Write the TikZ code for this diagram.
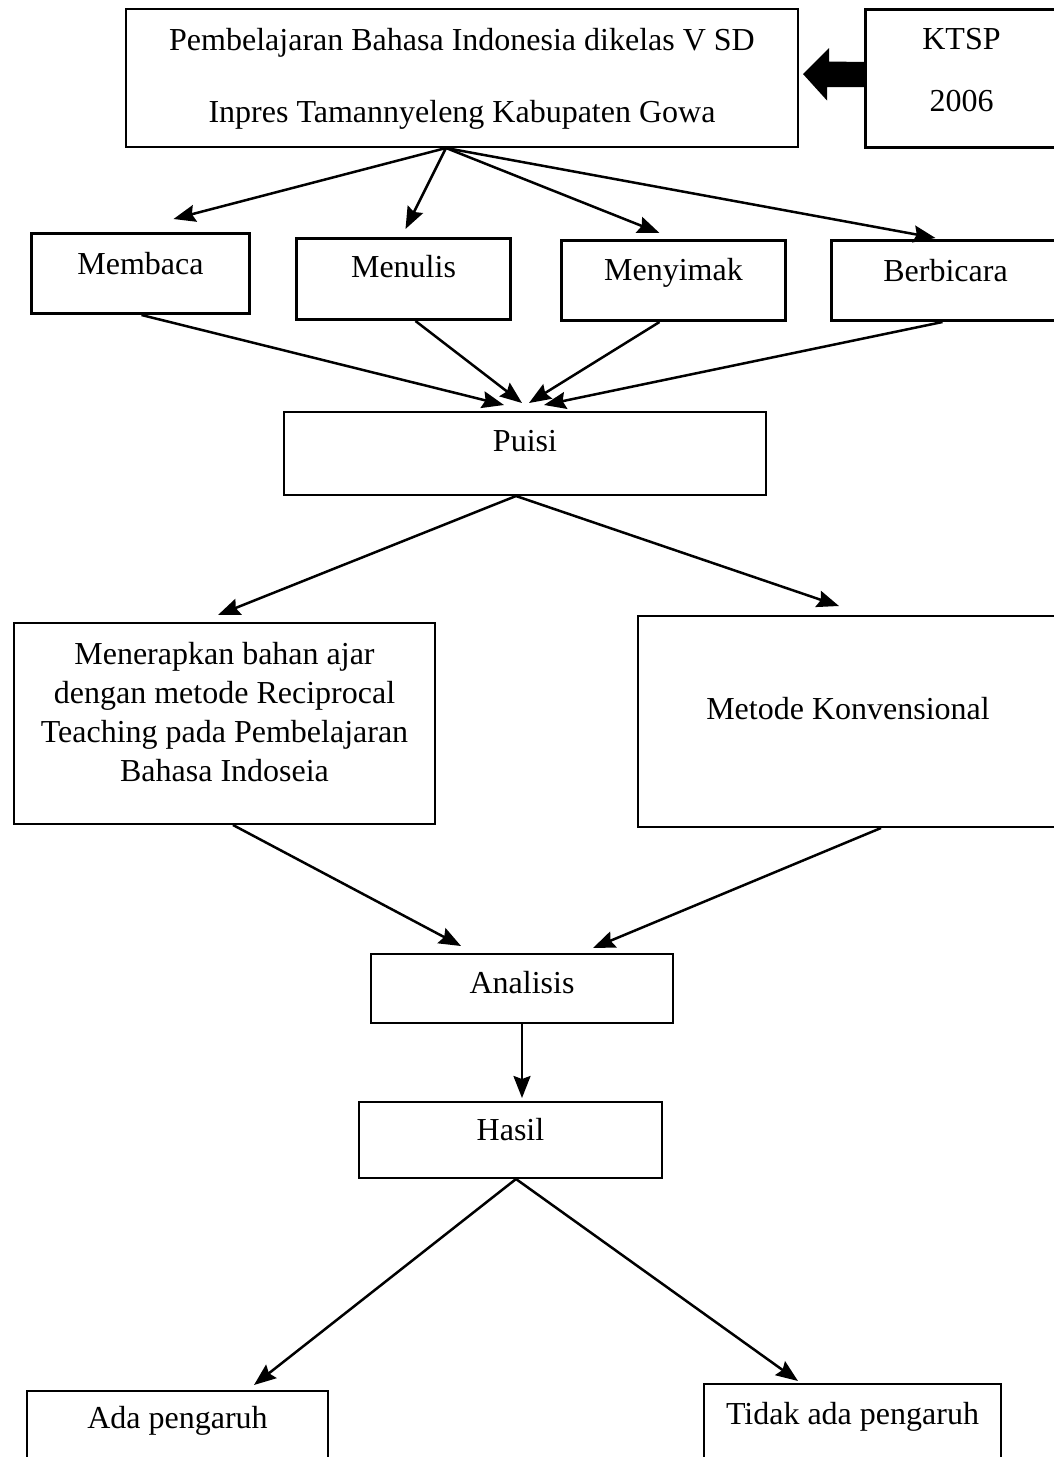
\documentclass[tikz,border=0pt]{standalone}
\usepackage{fontspec}
\setmainfont{Liberation Serif}
\usetikzlibrary{arrows.meta}
\newcommand{\bxt}[4]{\parbox[c][#2][t]{#1}{\centering\rule{0pt}{#3}#4}}
\begin{document}
\begin{tikzpicture}[x=1pt,y=-1pt,
  box/.style={draw, line width=2pt, inner sep=0pt, anchor=north west, font=\fontsize{32}{39}\selectfont},
  tbox/.style={box, line width=3pt},
  arr/.style={line width=2.5pt, -{Stealth[length=22pt,width=17pt,inset=3pt]}},
  ln/.style={line width=2.5pt}]
\useasboundingbox (0,0) rectangle (1054,1457);

\node[box] (top) at (125,8) {\bxt{672pt}{138pt}{41pt}{Pembelajaran Bahasa Indonesia dikelas V SD\\[33pt]Inpres Tamannyeleng Kabupaten Gowa}};
\node[tbox] (ktsp) at (864,8) {\bxt{192pt}{138pt}{40pt}{KTSP\\[23pt]2006}};

\node[tbox] (mem) at (30,232) {\bxt{218pt}{80pt}{41pt}{Membaca}};
\node[tbox] (menu) at (295,237) {\bxt{214pt}{81pt}{39pt}{Menulis}};
\node[tbox] (meny) at (560,239) {\bxt{224pt}{80pt}{40pt}{Menyimak}};
\node[tbox] (berb) at (830,239) {\bxt{228pt}{80pt}{41pt}{Berbicara}};

\node[box] (puisi) at (283,411) {\bxt{482pt}{83pt}{39pt}{Puisi}};

\node[box] (lm) at (13,622) {\bxt{421pt}{201pt}{41pt}{Menerapkan bahan ajar\\dengan metode Reciprocal\\Teaching pada Pembelajaran\\Bahasa Indoseia}};
\node[box] (rm) at (637,615) {\bxt{420pt}{211pt}{103pt}{Metode Konvensional}};

\node[box] (anal) at (370,953) {\bxt{302pt}{69pt}{39pt}{Analisis}};
\node[box] (hasil) at (358,1101) {\bxt{303pt}{76pt}{38pt}{Hasil}};

\node[box] (ada) at (26,1390) {\bxt{301pt}{100pt}{37pt}{Ada pengaruh}};
\node[box] (tidak) at (703,1383) {\bxt{297pt}{100pt}{40pt}{Tidak ada pengaruh}};

% block arrow KTSP -> top
\fill ([xshift=4pt,yshift=4pt]top.east) -- ++(26,-26) -- ++(0,13.5)
  -- ([yshift=16.5pt]ktsp.west) -- ([yshift=-8.5pt]ktsp.west) -- ++(-37,0) -- ++(0,13.5) -- cycle;

% top -> skills
\draw[arr] ([xshift=-16pt]top.south) -- ([xshift=33pt,yshift=13pt]mem.north);
\draw[arr] ([xshift=-16pt]top.south) -- ([xshift=2pt,yshift=8pt]menu.north);
\draw[arr] ([xshift=-16pt]top.south) -- ([xshift=-14pt,yshift=6pt]meny.north);
\draw[arr] ([xshift=-16pt]top.south) -- ([xshift=-10pt,yshift=1pt]berb.north);

% skills -> puisi
\draw[arr] ([xshift=1pt]mem.south) -- ([xshift=-21pt,yshift=6pt]puisi.north);
\draw[arr] ([xshift=12pt]menu.south) -- ([xshift=-3pt,yshift=8pt]puisi.north);
\draw[arr] ([xshift=-14pt]meny.south) -- ([xshift=4pt,yshift=8pt]puisi.north);
\draw[arr] ([xshift=-3pt]berb.south) -- ([xshift=19pt,yshift=6pt]puisi.north);

% puisi -> methods
\draw[arr] ([xshift=-9pt]puisi.south) -- ([xshift=-6.5pt,yshift=7pt]lm.north);
\draw[arr] ([xshift=-9pt]puisi.south) -- ([xshift=-9pt,yshift=9pt]rm.north);

% methods -> analisis
\draw[arr] ([xshift=8.5pt]lm.south) -- ([xshift=-61pt,yshift=7pt]anal.north);
\draw[arr] ([xshift=33pt]rm.south) -- ([xshift=71pt,yshift=5pt]anal.north);

% analisis -> hasil
\draw[arr, shorten >=3pt] (anal.south) -- (anal.south |- hasil.north);

% hasil -> outcomes
\draw[arr] ([xshift=5.5pt]hasil.south) -- ([xshift=76.5pt,yshift=5pt]ada.north);
\draw[arr] ([xshift=5.5pt]hasil.south) -- ([xshift=-54.5pt,yshift=2pt]tidak.north);
\end{tikzpicture}
\end{document}
